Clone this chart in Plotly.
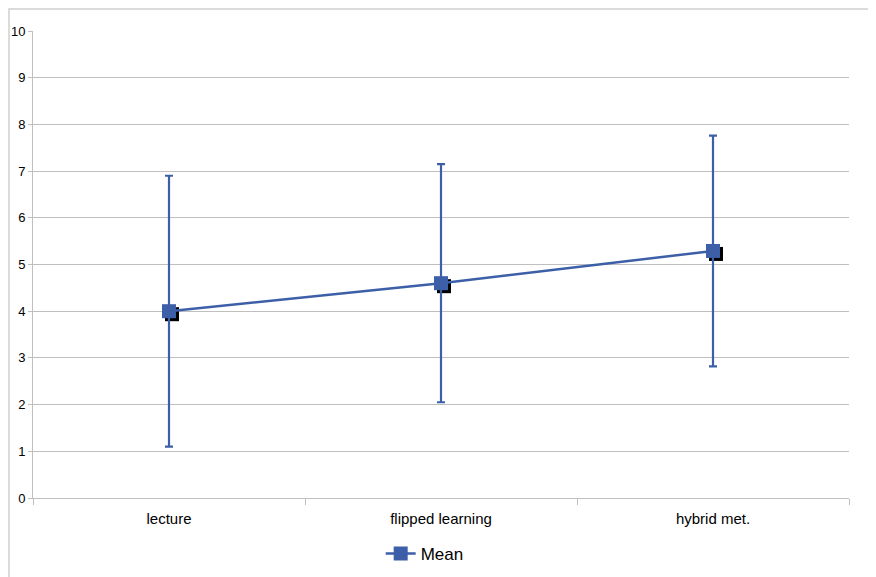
import plotly.graph_objects as go

categories = ["lecture", "flipped learning", "hybrid met."]
means = [4.0, 4.6, 5.29]
errors = [2.9, 2.55, 2.47]
y_ticks = list(range(0, 11))

blue = "#3D5FA8"
grid = "#BFBFBF"
font = "Liberation Sans, Arial, sans-serif"

fig = go.Figure()

# invisible anchor trace so the base x/y subplot (grid, ticks) is created
fig.add_trace(go.Scatter(
    x=categories, y=means, mode="markers", marker=dict(opacity=0),
    showlegend=False, hoverinfo="skip"))

# shadow markers (overlay axis pair whose range is nudged by a few pixels)
fig.add_trace(go.Scatter(
    x=categories, y=means, mode="markers", xaxis="x2", yaxis="y2",
    marker=dict(symbol="square", size=14, color="black"),
    showlegend=False, hoverinfo="skip"))

fig.add_trace(go.Scatter(
    x=categories, y=means, mode="lines+markers", name="Mean",
    xaxis="x3", yaxis="y3",
    line=dict(color=blue, width=2.5),
    marker=dict(symbol="square", size=14, color=blue),
    error_y=dict(type="data", array=errors, visible=True, color=blue,
                 thickness=2.2, width=4)))

W, H = 876, 577
ml, mt = 25, 23
pw, ph = 816, 467
mr = W - ml - pw
mb = H - mt - ph
sx = 3 * 3.0 / pw     # 3 px in category units
sy = 3 * 10.0 / ph    # 3 px in y units

fig.update_layout(
    width=W, height=H,
    margin=dict(l=ml, r=mr, t=mt, b=mb),
    paper_bgcolor="white", plot_bgcolor="white",
    font=dict(family=font, size=12, color="#000000"),
    xaxis=dict(type="category", categoryarray=categories, range=[-0.5, 2.5],
               showgrid=False, showline=True, linecolor=grid, linewidth=1,
               ticks="outside", tickson="boundaries", ticklen=6, tickcolor=grid,
               tickfont=dict(size=15), zeroline=False, automargin=False,
               ticklabelstandoff=7),
    yaxis=dict(range=[0, 10], tickvals=y_ticks, ticksuffix="  ",
               showgrid=True, gridcolor=grid, gridwidth=1,
               showline=True, linecolor=grid, linewidth=1,
               ticks="outside", ticklen=4, tickcolor=grid,
               tickfont=dict(size=13), zeroline=False, automargin=False),
    xaxis2=dict(type="category", categoryarray=categories, range=[-0.5 - sx, 2.5 - sx],
                overlaying="x", visible=False, anchor="y2"),
    yaxis2=dict(range=[sy, 10 + sy],
                overlaying="y", visible=False, anchor="x2"),
    xaxis3=dict(type="category", categoryarray=categories, range=[-0.5, 2.5],
                overlaying="x", visible=False, anchor="y3"),
    yaxis3=dict(range=[0, 10],
                overlaying="y", visible=False, anchor="x3"),
    legend=dict(orientation="h", x=0.48, xanchor="center", y=-0.12, yanchor="middle",
                font=dict(size=17)),
    shapes=[dict(type="rect", xref="paper", yref="paper",
                 x0=(1 - ml) / pw, x1=1.2, y0=-0.3, y1=(ph + mt - 1) / ph,
                 line=dict(color="#D0D0D0", width=1.5), layer="below")],
)

fig.write_html("out.html")
